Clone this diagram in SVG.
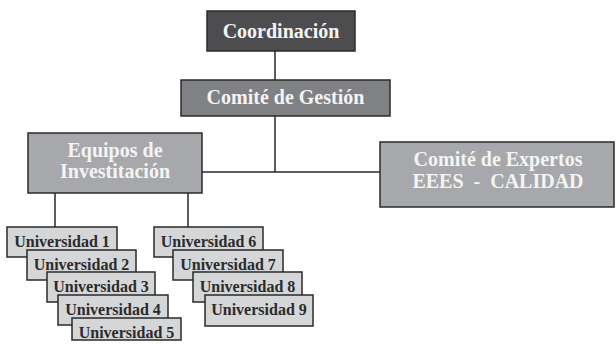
<svg xmlns="http://www.w3.org/2000/svg" width="616" height="345" viewBox="0 0 616 345">
<style>
  .box{stroke:#2a2a2a;stroke-width:1.5}
  .dark{fill:#4d4d4f}
  .mid{fill:#808184}
  .light{fill:#a7a8ab}
  .uni{fill:#d5d6d8}
  .t{font-family:"Liberation Serif","Times New Roman",serif;font-weight:bold;font-size:20px;fill:#f4f4f4;text-anchor:middle;white-space:pre}
  .u{font-family:"Liberation Serif","Times New Roman",serif;font-weight:bold;font-size:16px;fill:#2b2b2b;text-anchor:middle}
  .c{stroke:#2a2a2a;stroke-width:1.5;fill:none}
</style>
<rect width="616" height="345" fill="#ffffff"/>
<g id="connectors">
  <path class="c" d="M275 51V80M275 116V172M202 172H380M55 193V227M188 193V227"/>
</g>
<g id="coordinacion">
  <rect class="box dark" x="207" y="11" width="148" height="40"/>
  <text class="t" x="281" y="37.5">Coordinación</text>
</g>
<g id="comite-gestion">
  <rect class="box mid" x="181" y="80" width="209" height="36"/>
  <text class="t" x="285.5" y="104">Comité de Gestión</text>
</g>
<g id="equipos">
  <rect class="box light" x="28" y="133" width="174" height="60"/>
  <text class="t" x="115" y="157">Equipos de</text>
  <text class="t" x="115" y="178">Investitación</text>
</g>
<g id="comite-expertos">
  <rect class="box light" x="380" y="142" width="234" height="65"/>
  <text class="t" x="498" y="166">Comité de Expertos</text>
  <text class="t" x="498" y="188" xml:space="preserve">EEES  -  CALIDAD</text>
</g>
<g id="universidad-1">
  <rect class="box uni" x="7" y="227" width="110" height="30"/>
  <text class="u" x="62" y="247">Universidad 1</text>
</g>
<g id="universidad-2">
  <rect class="box uni" x="27" y="250" width="109" height="30"/>
  <text class="u" x="81.5" y="270">Universidad 2</text>
</g>
<g id="universidad-3">
  <rect class="box uni" x="47" y="272" width="108" height="30"/>
  <text class="u" x="101" y="292">Universidad 3</text>
</g>
<g id="universidad-4">
  <rect class="box uni" x="58" y="295" width="110" height="30"/>
  <text class="u" x="113" y="315">Universidad 4</text>
</g>
<g id="universidad-5">
  <rect class="box uni" x="72" y="318" width="109" height="22"/>
  <text class="u" x="126.5" y="337.5">Universidad 5</text>
</g>
<g id="universidad-6">
  <rect class="box uni" x="154" y="227" width="109" height="30"/>
  <text class="u" x="208.5" y="247">Universidad 6</text>
</g>
<g id="universidad-7">
  <rect class="box uni" x="173" y="250" width="110" height="30"/>
  <text class="u" x="228" y="270">Universidad 7</text>
</g>
<g id="universidad-8">
  <rect class="box uni" x="193" y="272" width="109" height="30"/>
  <text class="u" x="247.5" y="292">Universidad 8</text>
</g>
<g id="universidad-9">
  <rect class="box uni" x="205" y="295" width="108" height="31"/>
  <text class="u" x="259" y="315">Universidad 9</text>
</g>
</svg>
